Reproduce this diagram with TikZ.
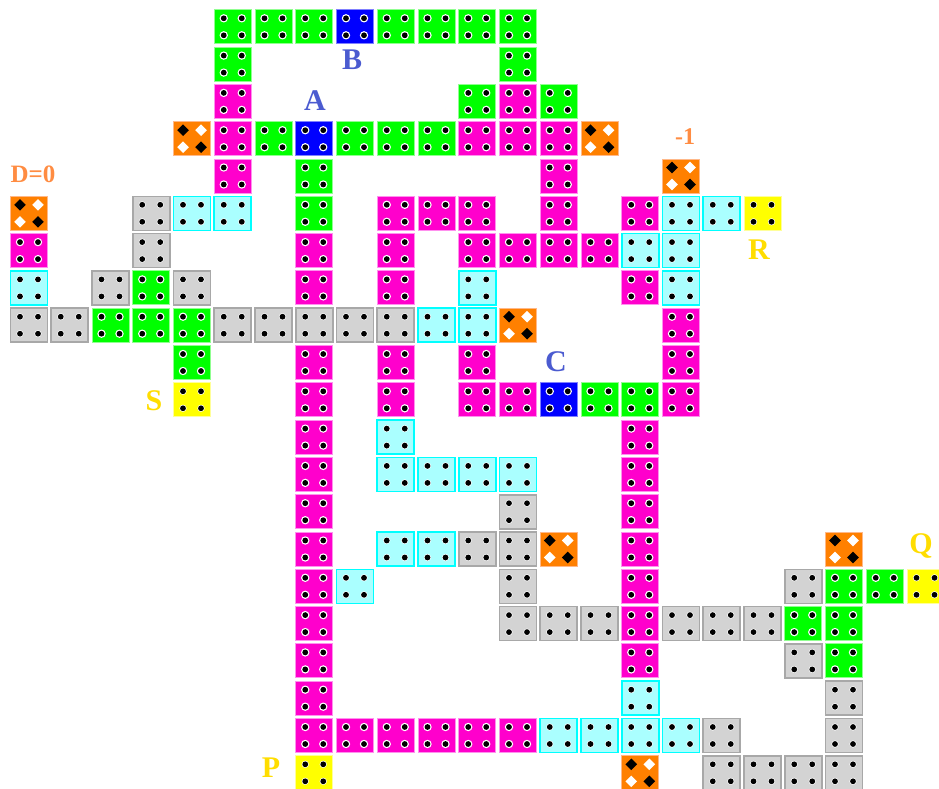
\documentclass[tikz,border=0pt]{standalone}
\usepackage{fontspec}
\setmainfont{Liberation Serif}
\definecolor{cg}{HTML}{00FF00}\definecolor{cgb}{HTML}{90FF90}
\definecolor{cm}{HTML}{FF00CC}\definecolor{cmb}{HTML}{FF90EE}
\definecolor{cb}{HTML}{0000FF}\definecolor{cbb}{HTML}{8080FF}
\definecolor{co}{HTML}{FF8000}\definecolor{cob}{HTML}{FFB888}
\definecolor{cy}{HTML}{FFFF00}\definecolor{cyb}{HTML}{FFFF99}
\definecolor{cs}{HTML}{D3D3D3}\definecolor{csb}{HTML}{A8A8A8}
\definecolor{cc}{HTML}{AAFFFF}\definecolor{ccb}{HTML}{00FFFF}
\definecolor{lblue}{HTML}{4B5BD0}
\definecolor{lorange}{HTML}{FF8C42}
\definecolor{lyellow}{HTML}{FFDD00}
\tikzset{
  base/.style={rectangle,minimum width=37pt,minimum height=34pt,inner sep=0pt,line width=1pt},
  tg/.style={base,fill=cg,draw=cgb},
  tm/.style={base,fill=cm,draw=cmb},
  tb/.style={base,fill=cb,draw=cbb},
  to/.style={base,fill=co,draw=cob},
  ty/.style={base,fill=cy,draw=cyb},
  ts/.style={base,fill=cs,draw=csb,line width=1.6pt},
  tc/.style={base,fill=cc,draw=ccb,line width=1.6pt},
  lbl/.style={font=\bfseries\fontsize{30}{30}\selectfont,inner sep=0pt},
  lbls/.style={font=\bfseries\fontsize{25}{25}\selectfont,inner sep=0pt},
}
% #1 node, #2 dx, #3 dy
\newcommand\halodot[3]{\fill[white,shift={(#1.center)}] (#2,#3) circle (4.2pt);\fill[black,shift={(#1.center)}] (#2,#3) circle (2.9pt);}
\newcommand\plaindot[3]{\fill[white,shift={(#1.center)}] (#2,#3) circle (3.6pt);\fill[black,shift={(#1.center)}] (#2,#3) circle (2.9pt);}
\newcommand\dmd[4]{\fill[#4,shift={(#1.center)}] ({#2-5.8},#3) -- (#2,{#3+5.8}) -- ({#2+5.8},#3) -- (#2,{#3-5.8}) -- cycle;}
\newcommand\fourdots[2]{#1{#2}{-9}{-8.5}#1{#2}{9}{-8.5}#1{#2}{-9}{8.5}#1{#2}{9}{8.5}}
\newcommand\dotsg[1]{\fourdots\halodot{#1}}
\newcommand\dotsm[1]{\fourdots\halodot{#1}}
\newcommand\dotsb[1]{\fourdots\halodot{#1}}
\newcommand\dotss[1]{\fourdots\plaindot{#1}}
\newcommand\dotsc[1]{\fourdots\plaindot{#1}}
\newcommand\dotsy[1]{\fourdots\plaindot{#1}}
\newcommand\dotso[1]{\dmd{#1}{-9}{-8.5}{black}\dmd{#1}{9}{8.5}{black}\dmd{#1}{9}{-8.5}{white}\dmd{#1}{-9}{8.5}{white}}
\begin{document}
\begin{tikzpicture}[x=1pt,y=-1pt]
\useasboundingbox (0,0) rectangle (939,789);
\foreach \c/\r/\k in {
 5/0/g,6/0/g,7/0/g,8/0/b,9/0/g,10/0/g,11/0/g,12/0/g,
 5/1/g,12/1/g,
 5/2/m,11/2/g,12/2/m,13/2/g,
 4/3/o,5/3/m,6/3/g,7/3/b,8/3/g,9/3/g,10/3/g,11/3/m,12/3/m,13/3/m,14/3/o,
 5/4/m,7/4/g,13/4/m,16/4/o,
 0/5/o,3/5/s,4/5/c,5/5/c,7/5/g,9/5/m,10/5/m,11/5/m,13/5/m,15/5/m,16/5/c,17/5/c,18/5/y,
 0/6/m,3/6/s,7/6/m,9/6/m,11/6/m,12/6/m,13/6/m,14/6/m,15/6/c,16/6/c,
 0/7/c,2/7/s,3/7/g,4/7/s,7/7/m,9/7/m,11/7/c,15/7/m,16/7/c,
 0/8/s,1/8/s,2/8/g,3/8/g,4/8/g,5/8/s,6/8/s,7/8/s,8/8/s,9/8/s,10/8/c,11/8/c,12/8/o,16/8/m,
 4/9/g,7/9/m,9/9/m,11/9/m,16/9/m,
 4/10/y,7/10/m,9/10/m,11/10/m,12/10/m,13/10/b,14/10/g,15/10/g,16/10/m,
 7/11/m,9/11/c,15/11/m,
 7/12/m,9/12/c,10/12/c,11/12/c,12/12/c,15/12/m,
 7/13/m,12/13/s,15/13/m,
 7/14/m,9/14/c,10/14/c,11/14/s,12/14/s,13/14/o,15/14/m,20/14/o,
 7/15/m,8/15/c,12/15/s,15/15/m,19/15/s,20/15/g,21/15/g,22/15/y,
 7/16/m,12/16/s,13/16/s,14/16/s,15/16/m,16/16/s,17/16/s,18/16/s,19/16/g,20/16/g,
 7/17/m,15/17/m,19/17/s,20/17/g,
 7/18/m,15/18/c,20/18/s,
 7/19/m,8/19/m,9/19/m,10/19/m,11/19/m,12/19/m,13/19/c,14/19/c,15/19/c,16/19/c,17/19/s,20/19/s,
 7/20/y,15/20/o,17/20/s,18/20/s,19/20/s,20/20/s}
{
  \node[t\k] (n-\c-\r) at ({29+40.75*\c},{26.8+37.3*\r}) {};
  \csname dots\k\endcsname{n-\c-\r}
}
\node[lbl,text=lblue] (lB) at (352,60) {B};
\node[lbl,text=lblue] (lA) at (315,101) {A};
\node[lbl,text=lblue] (lC) at (556,362) {C};
\node[lbls,text=lorange] (lD) at (33,174) {D=0};
\node[font=\bfseries\fontsize{24}{24}\selectfont,inner sep=0pt,text=lorange] (lm) at (685,137) {-1};
\node[lbl,text=lyellow] (lR) at (759,250) {R};
\node[lbl,text=lyellow] (lS) at (154,401) {S};
\node[lbl,text=lyellow] (lP) at (271,768) {P};
\node[lbl,text=lyellow] (lQ) at (921,546) {Q};
\end{tikzpicture}
\end{document}
